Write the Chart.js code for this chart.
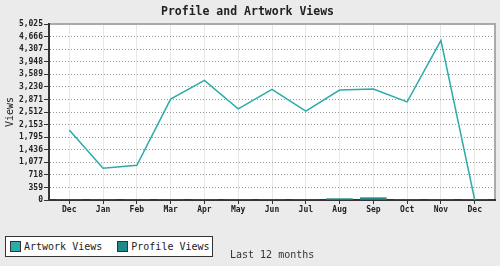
<!DOCTYPE html>
<html lang="en">
<head>
  <meta charset="UTF-8" />
  <title>Profile and Artwork Views</title>
  <script src="https://cdn.jsdelivr.net/npm/chart.js"></script>
  <style>
    body {
      margin: 0;
      padding: 0;
      background: #ebebeb;
      font-family: "DejaVu Sans Mono", monospace;
    }
    .wrap {
      position: relative;
      width: 500px;
      height: 266px;
    }
    .legend {
      position: absolute;
      left: 5px;
      top: 236px;
      width: 206px;
      height: 19px;
      background: #fff;
      border: 1.5px solid #333;
      font-size: 10px;
      color: #222;
      display: flex;
      align-items: center;
      white-space: nowrap;
    }
    .legend span.sw {
      display: inline-block;
      width: 9px;
      height: 9px;
      border: 1px solid #333;
      margin: 0 3px 0 4px;
    }
    .legend .item { display: flex; align-items: center; margin-right: 11px; }
    .note {
      position: absolute;
      left: 230px;
      top: 249px;
      font-size: 10px;
      color: #333;
      white-space: nowrap;
    }
  </style>
</head>
<body>
  <div class="wrap">
    <canvas id="viewsChart" width="500" height="266"></canvas>
    <div class="legend">
      <div class="item"><span class="sw" style="background:#2aaca9"></span>Artwork Views</div>
      <div class="item"><span class="sw" style="background:#1e8a88"></span>Profile Views</div>
    </div>
    <div class="note">Last 12 months</div>
  </div>
  <script>
    const months = ['Dec', 'Jan', 'Feb', 'Mar', 'Apr', 'May', 'Jun', 'Jul', 'Aug', 'Sep', 'Oct', 'Nov', 'Dec'];
    const artworkViews = [2000, 905, 990, 2880, 3415, 2600, 3160, 2540, 3140, 3170, 2800, 4560, 0];
    const profileViews = [0, 0, 0, 0, 0, 0, 0, 0, 38, 66, 0, 0, 0];
    const yTickLabels = ['0', '359', '718', '1,077', '1,436', '1,795', '2,153', '2,512', '2,871', '3,230', '3,589', '3,948', '4,307', '4,666', '5,025'];
    const yMax = 5025;

    const mono = '"DejaVu Sans Mono", monospace';

    // white plot area + gray top/right frame
    const frame = {
      id: 'frame',
      beforeDraw(chart) {
        const { ctx, chartArea: a } = chart;
        ctx.save();
        ctx.fillStyle = '#fff';
        ctx.fillRect(a.left, a.top, a.right - a.left, a.bottom - a.top);
        ctx.restore();
      },
      afterDraw(chart) {
        const { ctx, chartArea: a } = chart;
        ctx.save();
        ctx.strokeStyle = '#aaa';
        ctx.lineWidth = 2;
        ctx.beginPath();
        ctx.moveTo(a.left + 1, a.top);
        ctx.lineTo(a.right, a.top);
        ctx.lineTo(a.right, a.bottom - 1);
        ctx.stroke();
        ctx.restore();
      }
    };

    new Chart(document.getElementById('viewsChart'), {
      type: 'bar',
      data: {
        datasets: [
          {
            type: 'line',
            label: 'Artwork Views',
            data: artworkViews.map((v, i) => ({ x: i, y: v })),
            borderColor: '#2aaca9',
            backgroundColor: '#2aaca9',
            borderWidth: 1.5,
            pointRadius: 0,
            tension: 0
          },
          {
            label: 'Profile Views',
            data: profileViews.map((v, i) => ({ x: i, y: v })),
            backgroundColor: '#1e8a88',
            barThickness: 26
          }
        ]
      },
      options: {
        responsive: false,
        animation: false,
        layout: { padding: { top: 0, right: 5, bottom: 0, left: 0 } },
        plugins: {
          legend: { display: false },
          tooltip: { enabled: false },
          title: {
            display: true,
            text: 'Profile and Artwork Views',
            color: '#222',
            font: { family: mono, size: 11.5, weight: 'bold', lineHeight: 1 },
            padding: { top: 6.25, bottom: 6.25 }
          }
        },
        scales: {
          x: {
            type: 'linear',
            min: -0.6,
            max: 12.6,
            offset: false,
            afterBuildTicks: s => { s.ticks = months.map((m, i) => ({ value: i })); },
            afterFit: s => { s.height = 66; },
            ticks: {
              callback: (v, i) => months[i],
              color: '#222',
              font: { family: mono, size: 8, weight: 'bold' },
              padding: 1,
              maxRotation: 0,
              autoSkip: false
            },
            grid: { offset: false, color: '#e8e8e8', lineWidth: 1, tickColor: '#333', tickLength: 4 },
            border: { color: '#333', width: 2 }
          },
          y: {
            min: 0,
            max: yMax,
            afterBuildTicks: s => { s.ticks = yTickLabels.map((t, i) => ({ value: i * yMax / 14 })); },
            afterFit: s => { s.width = 49; },
            ticks: {
              callback: (v, i) => yTickLabels[i],
              color: '#222',
              font: { family: mono, size: 8, weight: 'bold' },
              padding: 1,
              autoSkip: false
            },
            grid: { color: '#999', lineWidth: 1, tickColor: '#333', tickLength: 5, tickBorderDash: [] },
            border: { color: '#333', width: 2, dash: [1, 2] },
            title: {
              display: true,
              text: 'Views',
              color: '#222',
              font: { family: mono, size: 10 },
              padding: { top: 4, bottom: 0 }
            }
          }
        }
      },
      plugins: [frame]
    });
  </script>
</body>
</html>
